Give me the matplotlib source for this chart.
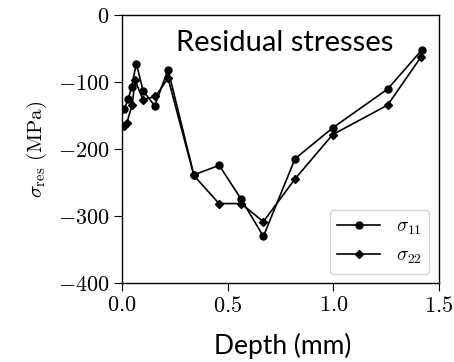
import matplotlib
matplotlib.use('Agg')
import matplotlib.pyplot as plt

# Computer Modern look for the axes text
plt.rcParams['font.family'] = 'serif'
plt.rcParams['font.serif'] = ['cmr10']
plt.rcParams['mathtext.fontset'] = 'cm'
plt.rcParams['axes.formatter.use_mathtext'] = True

# Data
depth_11 = [0.01, 0.03, 0.045, 0.068, 0.10, 0.155, 0.218, 0.34, 0.46, 0.563, 0.669, 0.819, 0.997, 1.257, 1.418]
sigma_11 = [-140, -125, -107, -72, -113, -135, -81, -238, -224, -274, -330, -214, -168, -110, -52]
depth_22 = [0.01, 0.022, 0.048, 0.062, 0.099, 0.158, 0.218, 0.34, 0.459, 0.563, 0.669, 0.819, 0.997, 1.257, 1.415]
sigma_22 = [-165, -161, -134, -97, -126, -121, -94, -239, -281, -281, -308, -244, -178, -134, -62]

fig = plt.figure(figsize=(4.54, 3.62), dpi=100)
ax = fig.add_axes([0.2687, 0.2174, 0.6983, 0.7403])

ax.plot(depth_11, sigma_11, color='black', marker='o', markersize=5, linewidth=1.2, label=r'$\sigma_{11}$')
ax.plot(depth_22, sigma_22, color='black', marker='D', markersize=4.5, linewidth=1.2, label=r'$\sigma_{22}$')

ax.set_xlim(0, 1.5)
ax.set_ylim(-400, 0)
ax.set_xticks([0.0, 0.5, 1.0, 1.5])
ax.set_yticks([0, -100, -200, -300, -400])
ax.tick_params(labelsize=16, direction='out', length=6, pad=3)
for s in ax.spines.values():
    s.set_linewidth(1.0)

ax.set_ylabel(r'$\sigma_{\mathrm{res}}\ (\mathrm{MPa})$', fontsize=15, labelpad=6)

ax.legend(loc='lower right', fontsize=14, handlelength=2.2)

# Sans-serif annotations
fig.text(0.628, 0.882, 'Residual stresses', family='Lato', fontsize=21, ha='center', va='center')
fig.text(0.623, 0.045, 'Depth (mm)', family='Lato', fontsize=19, ha='center', va='center')

fig.savefig('out.png', dpi=100)
